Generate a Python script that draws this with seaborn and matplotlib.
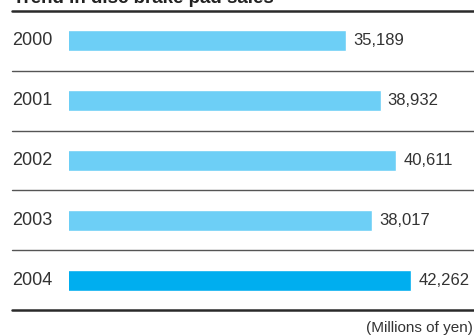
import matplotlib
matplotlib.use("Agg")
import matplotlib.pyplot as plt
import matplotlib.transforms as mtransforms
import seaborn as sns
import pandas as pd

years = ["2000", "2001", "2002", "2003", "2004"]
sales = [35189, 38932, 40611, 38017, 42262]
colors = ["#6dcff6", "#6dcff6", "#6dcff6", "#6dcff6", "#00aeef"]
title = "Trend in disc brake pad sales"
unit = "(Millions of yen)"

sns.set_theme(style="white")
plt.rcParams["font.family"] = ["Liberation Sans", "DejaVu Sans"]
txt = "#333333"

W, H = 474, 336
fig = plt.figure(figsize=(W / 100, H / 100), dpi=100)
ax = fig.add_axes([69 / W, 1 - 310 / H, (W - 69) / W, (310 - 11) / H])

df = pd.DataFrame({"year": years, "sales": sales})
sns.barplot(data=df, x="sales", y="year", hue="year", palette=colors,
            legend=False, width=0.35, orient="h", ax=ax, saturation=1)

px_per_unit = (411 - 346) / (42262 - 35189)
xmin = 5000
ax.set_xlim(xmin, xmin + (W - 69) / px_per_unit)
ax.set_ylim(4.5, -0.5)

for c in ax.containers:
    ax.bar_label(c, labels=[f"{v:,.0f}" for v in c.datavalues], padding=5,
                 fontsize=12, color=txt)

for s in ax.spines.values():
    s.set_visible(False)
ax.set_xticks([])
ax.set_yticks([])
ax.set_xlabel("")
ax.set_ylabel("")

x0 = -(69 - 12) / (W - 69)
trans = mtransforms.blended_transform_factory(ax.transAxes, ax.transData)
for i, yr in enumerate(years):
    ax.text(x0, i, yr, transform=trans, ha="left", va="center",
            fontsize=13, color=txt, clip_on=False)

for yb in [0.5, 1.5, 2.5, 3.5]:
    ax.axhline(yb, xmin=x0, xmax=1, color="#555555", lw=1.0, clip_on=False)
for yb in [-0.5, 4.5]:
    ax.axhline(yb, xmin=x0, xmax=1, color="#2a2a2a", lw=1.8, clip_on=False)

fig.text(13 / W, 1 - 3 / H, title, fontsize=13.5, fontweight="bold",
         color="#222222", va="baseline", ha="left")
fig.text(473 / W, 1 - 332 / H, unit, fontsize=11, color=txt,
         va="baseline", ha="right")

fig.savefig("out.png", dpi=100)
